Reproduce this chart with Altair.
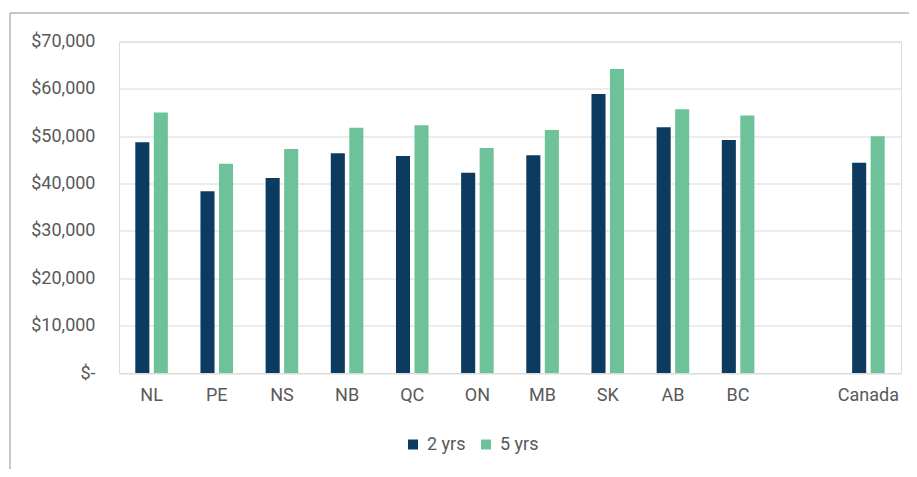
import altair as alt
import pandas as pd

regions = ["NL", "PE", "NS", "NB", "QC", "ON", "MB", "SK", "AB", "BC", "Canada"]
axis_domain = ["NL", "PE", "NS", "NB", "QC", "ON", "MB", "SK", "AB", "BC", " ", "Canada"]
series = ["2 yrs", "5 yrs"]
two_yrs = [48700, 38400, 41200, 46400, 45800, 42300, 46000, 58900, 51900, 49200, 44400]
five_yrs = [55000, 44200, 47300, 51800, 52300, 47500, 51300, 64200, 55700, 54400, 50000]
y_ticks = [0, 10000, 20000, 30000, 40000, 50000, 60000, 70000]
colors = ["#0d3b5f", "#6dc299"]

rows = []
for r, a, b in zip(regions, two_yrs, five_yrs):
    rows.append({"region": r, "series": series[0], "value": a})
    rows.append({"region": r, "series": series[1], "value": b})
df = pd.DataFrame(rows)

FONT = "Roboto"
TXT = "#595959"

bars = alt.Chart(df).mark_bar().encode(
    x=alt.X("region:N", sort=axis_domain,
            scale=alt.Scale(domain=axis_domain, paddingInner=0.5, paddingOuter=0.25),
            axis=alt.Axis(title=None, labelAngle=0, ticks=False, domain=False,
                          labelFontSize=18, labelColor=TXT, labelFont=FONT,
                          labelPadding=13, grid=False)),
    xOffset=alt.XOffset("series:N", sort=series,
                        scale=alt.Scale(paddingInner=0.24, paddingOuter=0)),
    y=alt.Y("value:Q",
            scale=alt.Scale(domain=[0, 70000], nice=False),
            axis=alt.Axis(title=None, values=y_ticks, ticks=False, domain=False,
                          labelExpr="datum.value == 0 ? '$-' : '$' + format(datum.value, ',')",
                          labelFontSize=18, labelColor=TXT, labelFont=FONT,
                          labelPadding=24, gridColor="#d9d9d9", gridWidth=1)),
    color=alt.Color("series:N", sort=series,
                    scale=alt.Scale(domain=series, range=colors),
                    legend=alt.Legend(title=None, orient="none", direction="horizontal",
                                      legendX=285, legendY=394, symbolType="square",
                                      symbolSize=100, symbolStrokeWidth=0,
                                      labelFontSize=18, labelColor=TXT, labelFont=FONT,
                                      labelOffset=5, columnPadding=11, padding=0)),
)

frame_top = alt.Chart(pd.DataFrame({"k": [0]})).mark_rule(color="#b5b5b5", strokeWidth=1.5).encode(
    x=alt.value(-109), x2=alt.value(800), y=alt.value(-28.5))
frame_left = alt.Chart(pd.DataFrame({"k": [0]})).mark_rule(color="#b5b5b5", strokeWidth=1.5).encode(
    x=alt.value(-109), y=alt.value(-28.5), y2=alt.value(440))

chart = alt.layer(bars, frame_top, frame_left).properties(
    width=782, height=331.5,
    padding={"left": 111, "top": 33.5, "right": 8, "bottom": 96},
    autosize=alt.AutoSizeParams(type="none"),
).configure_view(stroke=None).configure(background="white")

chart.save("out.html", embed_options={"renderer": "svg", "actions": False})
